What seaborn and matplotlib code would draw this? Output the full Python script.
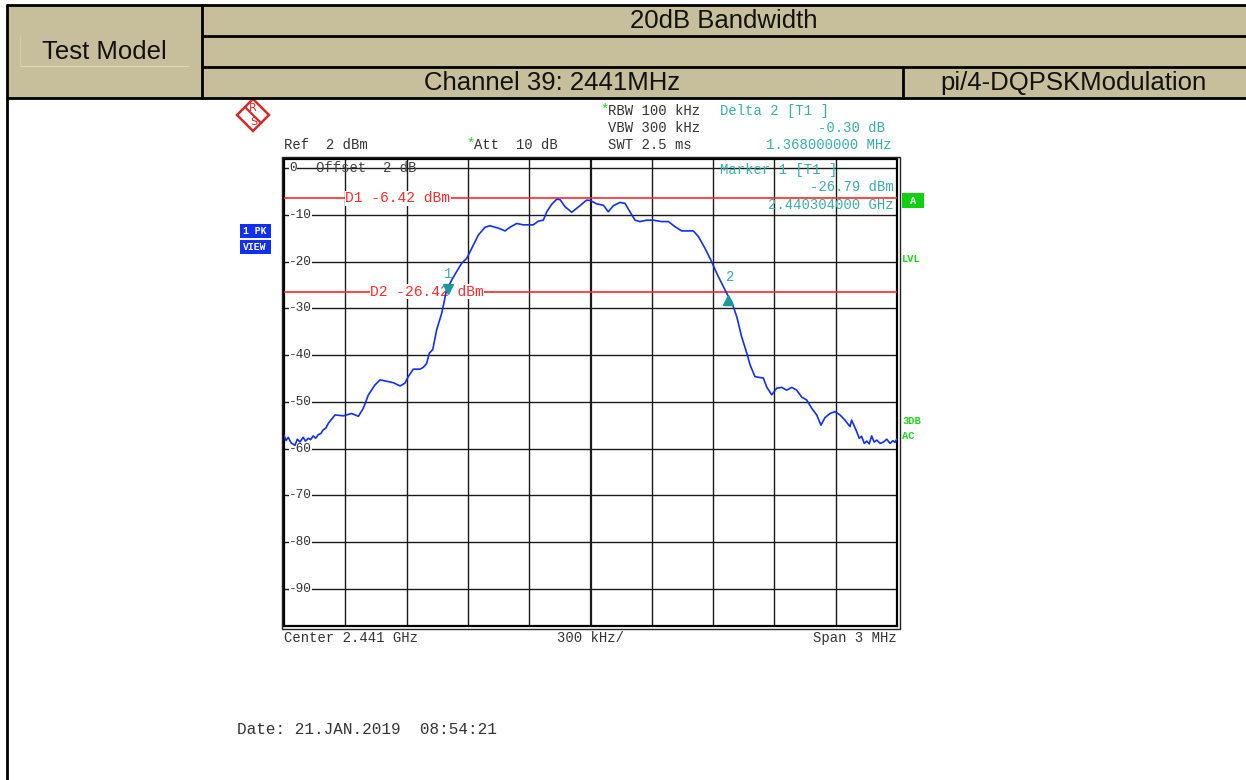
import pandas as pd
import numpy as np
import matplotlib
matplotlib.use('Agg')
import matplotlib.pyplot as plt
import seaborn as sns
from matplotlib.patches import Rectangle, Polygon

# trace: offset from 2439.5 MHz (MHz) and level (dBm)
freq_offset = [0.000, 0.010, 0.021, 0.035, 0.054, 0.065, 0.078, 0.094, 0.105, 0.119,
               0.130, 0.143, 0.155, 0.168, 0.180, 0.192, 0.205, 0.217,
               0.250, 0.290, 0.331, 0.364, 0.388, 0.413, 0.445, 0.470, 0.503, 0.535,
               0.568, 0.592, 0.608, 0.633, 0.666, 0.682, 0.698, 0.711, 0.728, 0.747,
               0.772, 0.796, 0.821, 0.845, 0.870, 0.894, 0.919, 0.951, 0.984, 1.008,
               1.049, 1.082, 1.106, 1.139, 1.171, 1.220, 1.245, 1.269, 1.286, 1.310,
               1.335, 1.351, 1.375, 1.408, 1.440, 1.481, 1.500, 1.530, 1.563, 1.587,
               1.612, 1.644, 1.669, 1.693, 1.718, 1.742, 1.775, 1.808, 1.848, 1.881,
               1.914, 1.946, 2.003, 2.028, 2.060, 2.093, 2.118, 2.142, 2.167, 2.191,
               2.216, 2.240, 2.265, 2.281, 2.305, 2.330, 2.346, 2.362, 2.387, 2.411,
               2.436, 2.460, 2.485, 2.509, 2.534, 2.558, 2.583, 2.607, 2.628, 2.647,
               2.672, 2.696, 2.721, 2.745, 2.770, 2.778, 2.803, 2.815, 2.827, 2.840,
               2.852, 2.864, 2.876, 2.888, 2.901, 2.918, 2.934, 2.950, 2.966, 2.980,
               2.990, 3.000]
level_dbm = [-57.1, -58.3, -57.6, -58.8, -59.3, -58.0, -58.6, -57.6, -58.4, -57.8,
             -58.1, -57.3, -57.8, -57.0, -56.8, -56.0, -55.6, -54.6,
             -52.8, -53.0, -52.5, -53.1, -51.4, -48.5, -46.4, -45.3, -45.6, -45.9,
             -46.6, -46.0, -44.6, -43.0, -43.0, -42.6, -41.8, -39.6, -38.8, -34.6,
             -31.0, -26.0, -23.9, -22.1, -20.3, -19.3, -17.1, -14.3, -12.6, -12.3,
             -12.8, -13.4, -12.6, -11.8, -12.1, -12.1, -11.3, -11.1, -9.3, -7.7,
             -6.6, -6.7, -8.2, -9.4, -8.3, -6.8, -6.9, -7.6, -7.9, -9.3,
             -8.0, -7.3, -7.5, -9.3, -11.1, -11.4, -11.1, -11.1, -11.4, -11.4,
             -12.5, -13.4, -13.4, -14.6, -17.1, -20.0, -22.5, -24.6, -26.8, -28.6,
             -31.8, -36.1, -39.6, -42.1, -44.6, -44.8, -44.9, -46.8, -48.5, -47.1,
             -46.9, -47.5, -46.9, -47.5, -49.0, -49.6, -51.4, -52.8, -55.0, -53.4,
             -52.5, -52.1, -52.8, -53.9, -55.3, -53.9, -56.4, -57.8, -57.4, -58.9,
             -58.4, -59.0, -57.3, -58.6, -58.2, -58.9, -58.6, -58.0, -58.9, -58.3,
             -58.7, -57.9]

center_mhz = 2441.0
span_mhz = 3.0
ref_level = 2.0
display_lines = {'D1': -6.42, 'D2': -26.42}
marker1 = (2440.304, -26.79)
marker2 = (2440.304 + 1.368, -26.79 - 0.30)
y_labels = [0, -10, -20, -30, -40, -50, -60, -70, -80, -90]

df = pd.DataFrame({'freq': [center_mhz - span_mhz / 2 + f for f in freq_offset],
                   'level': level_dbm})

sns.set_style('white')
plt.rcParams['font.family'] = ['DejaVu Sans']
MONO = 'Liberation Mono'
NARROW = ['Liberation Sans Narrow', 'Liberation Sans']
TEAL = '#33b0ac'
RED = '#ff2a2a'
GREEN = '#18d818'

W, H = 1246, 780
fig = plt.figure(figsize=(W / 100, H / 100), dpi=100)

# analyzer graticule (pixel box 284..897 x 159..626)
gx0, gx1, gy0, gy1 = 284, 897, 159, 626
ax = fig.add_axes([gx0 / W, 1 - gy1 / H, (gx1 - gx0) / W, (gy1 - gy0) / H])
ax.set_xlim(center_mhz - span_mhz / 2, center_mhz + span_mhz / 2)
ax.set_ylim(ref_level - 100, ref_level)
ax.set_xticks([])
ax.set_yticks([])
for s in ax.spines.values():
    s.set_color('black')
    s.set_linewidth(1.6)
for i in range(1, 10):
    xv = center_mhz - span_mhz / 2 + i * span_mhz / 10
    ax.axvline(xv, color='#1a1a1a', lw=1.6 if i == 5 else 1.0, zorder=1)
for yv in y_labels:
    ax.axhline(yv, color='#1a1a1a', lw=1.0, zorder=1)
    ax.text(center_mhz - span_mhz / 2 + 0.025, yv, '%d' % yv if yv else '0',
            family=MONO, fontsize=9.2, color='#333333', va='center', ha='left',
            bbox=dict(facecolor='white', edgecolor='none', pad=0.3), zorder=2)

# display lines
for name, val in display_lines.items():
    ax.axhline(val, color=RED, lw=1.2, zorder=3)
x_d1 = center_mhz - span_mhz / 2 + 0.30
x_d2 = center_mhz - span_mhz / 2 + 0.42
ax.text(x_d1, display_lines['D1'], 'D1 -6.42 dBm', family=MONO, fontsize=10.5,
        color=RED, va='center', ha='left',
        bbox=dict(facecolor='white', edgecolor='none', pad=0.2), zorder=4)
ax.text(x_d2, display_lines['D2'], 'D2 -26.42 dBm', family=MONO, fontsize=10.5,
        color=RED, va='center', ha='left',
        bbox=dict(facecolor='white', edgecolor='none', pad=0.2), zorder=4)

ax.text(center_mhz - span_mhz / 2 + 0.155, 0, 'Offset  2 dB', family=MONO,
        fontsize=10, color='#444444', va='center', ha='left', zorder=2)

sns.lineplot(data=df, x='freq', y='level', ax=ax, color='#1030f0', lw=1.2,
             sort=False, estimator=None, zorder=5)
ax.set_xlabel('')
ax.set_ylabel('')

# markers
ax.plot(marker1[0], marker1[1] + 1.0, marker='v', color='#1a9a96', ms=7, zorder=6)
ax.text(marker1[0], marker1[1] + 4.2, '1', family=MONO, fontsize=10, color=TEAL,
        ha='center', va='center', zorder=6)
ax.plot(marker2[0], marker2[1] - 1.0, marker='^', color='#1a9a96', ms=7, zorder=6)
ax.text(marker2[0] + 0.01, marker2[1] + 3.8, '2', family=MONO, fontsize=10,
        color=TEAL, ha='center', va='center', zorder=6)

# overlay in pixel coordinates for table and screen annotations
ov = fig.add_axes([0, 0, 1, 1])
ov.set_xlim(0, W)
ov.set_ylim(H, 0)
ov.axis('off')
ov.patch.set_alpha(0)
ov.set_zorder(5)

TAN = '#c7bf9c'
ov.add_patch(Rectangle((7, 5), W - 7, 93, facecolor=TAN, edgecolor='none'))
lw_t = 2.0
ov.plot([7, W], [5, 5], color='black', lw=lw_t)
ov.plot([202, W], [36, 36], color='black', lw=lw_t)
ov.plot([202, W], [67, 67], color='black', lw=lw_t)
ov.plot([7, W], [98, 98], color='black', lw=lw_t)
ov.plot([7, 7], [5, H], color='black', lw=lw_t)
ov.plot([202, 202], [5, 98], color='black', lw=lw_t)
ov.plot([903, 903], [67, 98], color='black', lw=lw_t)
ov.plot([20, 188], [66, 66], color='#ddd6bd', lw=0.8)
ov.plot([20, 20], [36, 66], color='#d3cbb0', lw=0.8)

head = dict(family=NARROW, fontsize=18.5, color='#111111', ha='center', va='center')
ov.text(104, 52, 'Test Model', **head)
ov.text(724, 21, '20dB Bandwidth', **head)
ov.text(552, 83, 'Channel 39: 2441MHz', **head)
ov.text(1073, 83, 'pi/4-DQPSKModulation', **head)

# outer frame of the graticule
ov.add_patch(Rectangle((gx0 - 2.5, gy0 - 2.5), gx1 - gx0 + 5, gy1 - gy0 + 5,
                       facecolor='none', edgecolor='#222222', lw=1.0))

# R&S logo
cx, cy, r = 253, 115, 16
LOGO = '#d42a2a'
ov.add_patch(Polygon([(cx, cy - r), (cx + r, cy), (cx, cy + r), (cx - r, cy)],
                     closed=True, facecolor='white', edgecolor=LOGO, lw=1.8))
ov.plot([cx - 8, cx + 8], [cy - 8, cy + 8], color=LOGO, lw=1.6)
ov.text(cx, cy - 7, 'R', family='DejaVu Sans', fontsize=8, color=LOGO,
        ha='center', va='center')
ov.text(cx + 1, cy + 7, 'S', family='DejaVu Sans', fontsize=8, color=LOGO,
        ha='center', va='center')

mono = dict(family=MONO, fontsize=10, va='center')
ov.text(284, 145, 'Ref  2 dBm', color='#333333', ha='left', **mono)
ov.text(466, 144, '*', color=GREEN, ha='left', **mono)
ov.text(474, 145, 'Att  10 dB', color='#333333', ha='left', **mono)
ov.text(600, 110, '*', color=GREEN, ha='left', **mono)
ov.text(608, 111, 'RBW 100 kHz', color='#333333', ha='left', **mono)
ov.text(608, 128, 'VBW 300 kHz', color='#333333', ha='left', **mono)
ov.text(608, 145, 'SWT 2.5 ms', color='#333333', ha='left', **mono)
ov.text(720, 111, 'Delta 2 [T1 ]', color=TEAL, ha='left', **mono)
ov.text(885, 128, '-0.30 dB', color=TEAL, ha='right', **mono)
ov.text(892, 145, '1.368000000 MHz', color=TEAL, ha='right', **mono)
ov.text(720, 170, 'Marker 1 [T1 ]', color=TEAL, ha='left', **mono)
ov.text(894, 187, '-26.79 dBm', color=TEAL, ha='right', **mono)
ov.text(894, 205, '2.440304000 GHz', color=TEAL, ha='right', **mono)

ov.text(284, 638, 'Center 2.441 GHz', color='#333333', ha='left', **mono)
ov.text(557, 638, '300 kHz/', color='#333333', ha='left', **mono)
ov.text(897, 638, 'Span 3 MHz', color='#333333', ha='right', **mono)
ov.text(237, 730, 'Date: 21.JAN.2019  08:54:21', family=MONO, fontsize=11.5,
        color='#333333', ha='left', va='center')

# side labels
ov.add_patch(Rectangle((902, 193), 22, 15, facecolor='#10d010', edgecolor='none'))
ov.text(913, 200.5, 'A', family=MONO, fontsize=7.5, weight='bold', color='white',
        ha='center', va='center')
side = dict(family=MONO, fontsize=7.5, weight='bold', color=GREEN, ha='left', va='center')
ov.text(902, 259, 'LVL', **side)
ov.text(902, 421, '3DB', **side)
ov.text(902, 436, 'AC', **side)

ov.add_patch(Rectangle((240, 224), 31, 14, facecolor='#1030f8', edgecolor='none'))
ov.add_patch(Rectangle((240, 240), 31, 14, facecolor='#1030f8', edgecolor='none'))
ov.text(255, 231.5, '1 PK', family=MONO, fontsize=7, weight='bold', color='white',
        ha='center', va='center')
ov.text(255, 247.5, 'VIEW', family=MONO, fontsize=7, weight='bold', color='white',
        ha='center', va='center')

fig.savefig('out.png', dpi=100, facecolor='white')
